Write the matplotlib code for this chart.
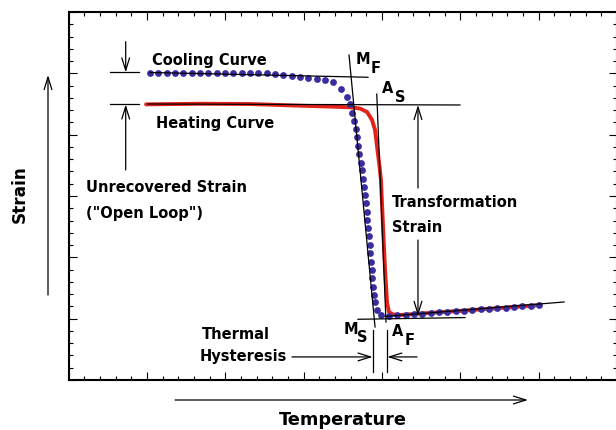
import matplotlib
matplotlib.use("Agg")
import matplotlib.pyplot as plt
from matplotlib.ticker import MultipleLocator

# cooling curve (dots), temperature / strain in arbitrary units
cool_T = [5.20, 5.73, 6.27, 6.80, 7.33, 7.86, 8.39, 8.92, 9.46, 9.99, 10.52, 11.05, 11.58, 12.11,
          12.65, 13.18, 13.71, 14.24, 14.77, 15.30, 15.84, 16.37, 16.90,
          17.42, 17.74, 17.96, 18.12, 18.22, 18.33, 18.41, 18.49, 18.56, 18.65, 18.71, 18.77,
          18.84, 18.90, 18.97, 19.03, 19.07, 19.11, 19.18, 19.22, 19.26, 19.30, 19.35, 19.39,
          19.43, 19.48, 19.54, 19.66, 19.97, 20.45,
          20.97, 21.52, 22.05, 22.58, 23.11, 23.64, 24.17, 24.71, 25.24, 25.77, 26.31, 26.84,
          27.36, 27.90, 28.43, 28.96, 29.50, 30.03]
cool_S = [25.05, 25.05, 25.05, 25.05, 25.05, 25.05, 25.05, 25.05, 25.05, 25.05, 25.05, 25.05, 25.05, 25.05,
          24.99, 24.95, 24.86, 24.78, 24.70, 24.63, 24.55, 24.46, 24.29,
          23.76, 23.11, 22.46, 21.77, 21.11, 20.46, 19.77, 19.08, 18.42, 17.73, 17.08, 16.39,
          15.73, 15.08, 14.43, 13.70, 13.04, 12.39, 11.70, 11.01, 10.35, 9.66, 8.97, 8.32,
          7.62, 6.93, 6.32, 5.71, 5.32, 5.22,
          5.27, 5.32, 5.36, 5.41, 5.46, 5.51, 5.56, 5.61, 5.66, 5.71, 5.76, 5.80,
          5.85, 5.90, 5.95, 6.00, 6.05, 6.10]

# heating curve (solid red)
heat_T = [4.95, 8.39, 11.58, 14.33, 16.69, 17.96, 18.60, 19.05, 19.37, 19.56, 19.69, 19.82,
          19.94, 20.02, 20.10, 20.20, 20.33, 20.45, 20.71, 21.15, 21.60, 24.34, 27.54, 30.09]
heat_S = [22.47, 22.52, 22.50, 22.38, 22.29, 22.23, 22.13, 21.85, 21.20, 20.38, 19.00, 17.69,
          16.30, 14.00, 11.66, 8.97, 6.28, 5.54, 5.34, 5.30, 5.34, 5.58, 5.87, 6.11]

# construction lines: (T0, T1), (S0, S1)
tangents = [
    ((5.20, 19.11), (25.07, 24.68)),   # cooling plateau
    ((5.07, 24.98), (22.50, 22.42)),   # heating plateau
    ((17.90, 19.56), (26.49, 4.32)),   # M_F - M_S tangent
    ((19.67, 20.26), (23.31, 4.73)),   # A_S - A_F tangent
    ((18.47, 25.30), (4.95, 5.09)),    # low-temp baseline
    ((20.20, 31.62), (5.18, 6.36)),    # high-temp baseline
    ((2.65, 4.50), (25.07, 25.07)),    # open loop marks
    ((2.65, 4.50), (22.47, 22.47)),
    ((19.41, 19.41), (4.08, 0.65)),    # hysteresis marks
    ((20.34, 20.34), (4.08, 0.65)),
]

BLUE = "#3a2da0"
RED = "#e3231b"
FS = 10.5

fig = plt.figure(figsize=(6.16, 4.30), dpi=100)
ax = fig.add_axes([68.5 / 616, 50 / 430, 548.5 / 616, 368 / 430])
ax.set_xlim(0, 35)
ax.set_ylim(0, 30)

ax.plot(heat_T, heat_S, color=RED, lw=2.8, solid_capstyle="round",
        solid_joinstyle="round", zorder=2)
ax.plot(cool_T, cool_S, "o", color=BLUE, ms=4.9, mec="none", zorder=3)
for xs, ys in tangents:
    ax.plot(xs, ys, color="black", lw=0.9, zorder=4)

arrow_kw = dict(arrowstyle="->,head_length=0.9,head_width=0.28", color="black",
                lw=0.9, shrinkA=0, shrinkB=0)

def arrow(x0, y0, x1, y1, **kw):
    ax.annotate("", xy=(x1, y1), xytext=(x0, y0), arrowprops=arrow_kw, **kw)

# open loop arrows
arrow(3.65, 27.58, 3.65, 25.07)
arrow(3.65, 17.12, 3.65, 22.47)
# transformation strain arrows
arrow(22.30, 15.65, 22.30, 22.42)
arrow(22.30, 11.41, 22.30, 5.22)
# thermal hysteresis arrows
arrow(14.26, 1.88, 19.41, 1.88)
arrow(22.24, 1.88, 20.34, 1.88)

tkw = dict(fontsize=FS, fontweight="bold", va="center", ha="left")
ax.text(5.33, 26.01, "Cooling Curve", **tkw)
ax.text(5.58, 20.95, "Heating Curve", **tkw)
ax.text(1.12, 15.73, "Unrecovered Strain", **tkw)
ax.text(1.12, 13.61, '("Open Loop")', **tkw)
ax.text(20.64, 14.43, "Transformation", **tkw)
ax.text(20.64, 12.47, "Strain", **tkw)
ax.text(8.52, 3.67, "Thermal", **tkw)
ax.text(8.39, 1.88, "Hysteresis", **tkw)

ckw = dict(fontsize=FS, fontweight="bold", va="center", ha="center")
ax.text(18.76, 26.09, "M", **ckw)
ax.text(19.59, 25.43, "F", **ckw)
ax.text(20.39, 23.76, "A", **ckw)
ax.text(21.19, 23.03, "S", **ckw)
ax.text(18.00, 4.08, "M", **ckw)
ax.text(18.76, 3.46, "S", **ckw)
ax.text(21.03, 3.95, "A", **ckw)
ax.text(21.79, 3.26, "F", **ckw)

# ticks
ax.xaxis.set_major_locator(MultipleLocator(5))
ax.xaxis.set_minor_locator(MultipleLocator(1))
ax.yaxis.set_major_locator(MultipleLocator(5))
ax.yaxis.set_minor_locator(MultipleLocator(1))
ax.tick_params(which="both", direction="in", top=True, right=True,
               labelbottom=False, labelleft=False, width=0.8)
ax.tick_params(which="major", length=5.8)
ax.tick_params(which="minor", length=3.2)
for s in ax.spines.values():
    s.set_linewidth(1.5)

# axis titles with arrows
fig.text(20 / 616, 1 - 194 / 430, "Strain", rotation=90, fontsize=12.2,
         fontweight="bold", ha="center", va="center")
fig.text(342.5 / 616, 1 - 420 / 430, "Temperature", fontsize=12.8,
         fontweight="bold", ha="center", va="center")
ax.annotate("", xy=(48, 430 - 75), xytext=(48, 430 - 295), xycoords="figure pixels",
            textcoords="figure pixels", arrowprops=arrow_kw, annotation_clip=False)
ax.annotate("", xy=(528, 430 - 400), xytext=(175, 430 - 400), xycoords="figure pixels",
            textcoords="figure pixels", arrowprops=arrow_kw, annotation_clip=False)

fig.savefig("out.png", dpi=100)
